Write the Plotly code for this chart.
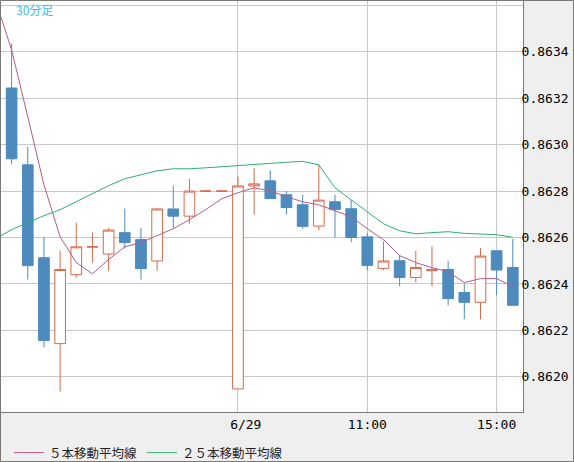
import plotly.graph_objects as go

# ---- data (30-minute candles) ----
idx = list(range(32))
open_ = [0.863244, 0.862913, 0.862513, 0.862143, 0.862440, 0.862559, 0.862529, 0.862621,
         0.862591, 0.862499, 0.862723, 0.862692, 0.862800, 0.862800, 0.861948, 0.862822,
         0.862844, 0.862784, 0.862741, 0.862649, 0.862754, 0.862724, 0.862603, 0.862467,
         0.862500, 0.862428, 0.862457, 0.862462, 0.862363, 0.862321, 0.862543, 0.862471]
high = [0.863434, 0.862991, 0.862603, 0.862543, 0.862664, 0.862621, 0.862642, 0.862724,
        0.862642, 0.862728, 0.862823, 0.862853, 0.862800, 0.862800, 0.862862, 0.862900,
        0.862890, 0.862800, 0.862784, 0.862913, 0.862784, 0.862761, 0.862619, 0.862583,
        0.862522, 0.862543, 0.862562, 0.862500, 0.862400, 0.862555, 0.862543, 0.862594]
low = [0.862917, 0.862419, 0.862126, 0.861937, 0.862427, 0.862492, 0.862457, 0.862552,
       0.862419, 0.862457, 0.862638, 0.862659, 0.862800, 0.862800, 0.861948, 0.862698,
       0.862768, 0.862699, 0.862638, 0.862631, 0.862600, 0.862579, 0.862459, 0.862459,
       0.862390, 0.862407, 0.862390, 0.862308, 0.862248, 0.862248, 0.862351, 0.862308]
close = [0.862939, 0.862479, 0.862156, 0.862462, 0.862560, 0.862560, 0.862632, 0.862578,
         0.862466, 0.862723, 0.862692, 0.862800, 0.862800, 0.862800, 0.862822, 0.862831,
         0.862768, 0.862729, 0.862648, 0.862761, 0.862721, 0.862600, 0.862480, 0.862499,
         0.862428, 0.862471, 0.862462, 0.862337, 0.862321, 0.862520, 0.862460, 0.862308]

ma_idx = list(range(-1, 32))
ma5 = [0.863623,
       0.863408, 0.863120, 0.862827, 0.862603, 0.862492, 0.862444, 0.862505, 0.862560,
       0.862578, 0.862608, 0.862638, 0.862677, 0.862720, 0.862767, 0.862793, 0.862814,
       0.862801, 0.862776, 0.862754, 0.862741, 0.862715, 0.862689, 0.862638, 0.862591,
       0.862522, 0.862492, 0.862470, 0.862453, 0.862406, 0.862423, 0.862423, 0.862388]
ma25 = [0.862594,
        0.862634, 0.862664, 0.862694, 0.862720, 0.862754, 0.862788, 0.862823, 0.862853,
        0.862870, 0.862887, 0.862896, 0.862896, 0.862900, 0.862905, 0.862909, 0.862917,
        0.862922, 0.862924, 0.862928, 0.862913, 0.862814, 0.862763, 0.862711, 0.862659,
        0.862629, 0.862616, 0.862621, 0.862625, 0.862618, 0.862616, 0.862612, 0.862601]

x_tickvals = [14, 22, 30]
x_ticktext = ["\u00a0\u00a06/29", "11:00", "15:00"]
y_tickvals = [0.8620, 0.8622, 0.8624, 0.8626, 0.8628, 0.8630, 0.8632, 0.8634, 0.8636]
y_ticktext = ["0.8620", "0.8622", "0.8624", "0.8626", "0.8628", "0.8630", "0.8632", "0.8634", ""]

UP = "#d9694c"
DOWN = "#4d8bbf"
MA5C = "#b45a8a"
MA25C = "#30ad74"
BORDER = "#7a7a74"

fig = go.Figure()
fig.add_trace(go.Candlestick(
    x=idx, open=open_, high=high, low=low, close=close,
    increasing=dict(line=dict(color=UP, width=1), fillcolor="white"),
    decreasing=dict(line=dict(color=DOWN, width=1), fillcolor=DOWN),
    whiskerwidth=0, showlegend=False, hoverinfo="skip"))
fig.add_trace(go.Scatter(x=ma_idx, y=ma5, mode="lines", name="５本移動平均線",
                         line=dict(color=MA5C, width=1), hoverinfo="skip"))
fig.add_trace(go.Scatter(x=ma_idx, y=ma25, mode="lines", name="２５本移動平均線",
                         line=dict(color=MA25C, width=1), hoverinfo="skip"))

W, H = 574, 462
ml, mr, mt, mb = 1, 51, 1, 50
pw, ph = W - ml - mr, H - mt - mb

def px_x(X):
    return (X - ml) / pw

def px_y(Y):
    return 1 - (Y - mt) / ph

fig.update_layout(
    width=W, height=H,
    margin=dict(l=ml, r=mr, t=mt, b=mb, pad=0, autoexpand=False),
    paper_bgcolor="#efefef", plot_bgcolor="white",
    boxgap=0.34, boxgroupgap=0,
    font=dict(family="DejaVu Sans Mono", size=13, color="#000000"),
    xaxis=dict(type="linear", range=[-0.656, 31.63], tickvals=x_tickvals, ticktext=x_ticktext,
               showgrid=True, gridcolor="#c8c8c8", gridwidth=1, zeroline=False,
               showline=True, linecolor=BORDER, linewidth=1, ticks="", automargin=False,
               rangeslider=dict(visible=False), fixedrange=True,
               tickfont=dict(family="DejaVu Sans Mono", size=13, color="#000")),
    yaxis=dict(side="right", range=[0.8618486, 0.8636185], tickvals=y_tickvals, ticktext=y_ticktext,
               showgrid=True, gridcolor="#c8c8c8", gridwidth=1, zeroline=False,
               showline=True, linecolor=BORDER, linewidth=1, ticks="", automargin=False,
               ticklabelstandoff=-5, fixedrange=True,
               tickfont=dict(family="DejaVu Sans Mono", size=13, color="#000")),
    legend=dict(orientation="h", xref="container", yref="container",
                x=9 / W, xanchor="left", y=(H - 453) / H, yanchor="middle",
                bgcolor="rgba(0,0,0,0)", font=dict(family="Noto Sans CJK JP", size=12.5, color="#222"),
                itemclick=False),
    showlegend=True,
    annotations=[dict(text="30分足", xref="paper", yref="paper", x=px_x(14), y=px_y(9.5),
                      xanchor="left", yanchor="middle", showarrow=False,
                      font=dict(family="Noto Sans CJK JP", size=12, color="#3cbcf0"))],
    shapes=[dict(type="rect", xref="paper", yref="paper",
                 x0=px_x(0.5), x1=px_x(573.5), y0=px_y(461.5), y1=px_y(0.5),
                 line=dict(color=BORDER, width=1), fillcolor="rgba(0,0,0,0)", layer="above")],
)

fig.write_html("out.html", config={"displayModeBar": False},
               post_script="document.body.style.margin='0';document.body.style.overflow='hidden';")
